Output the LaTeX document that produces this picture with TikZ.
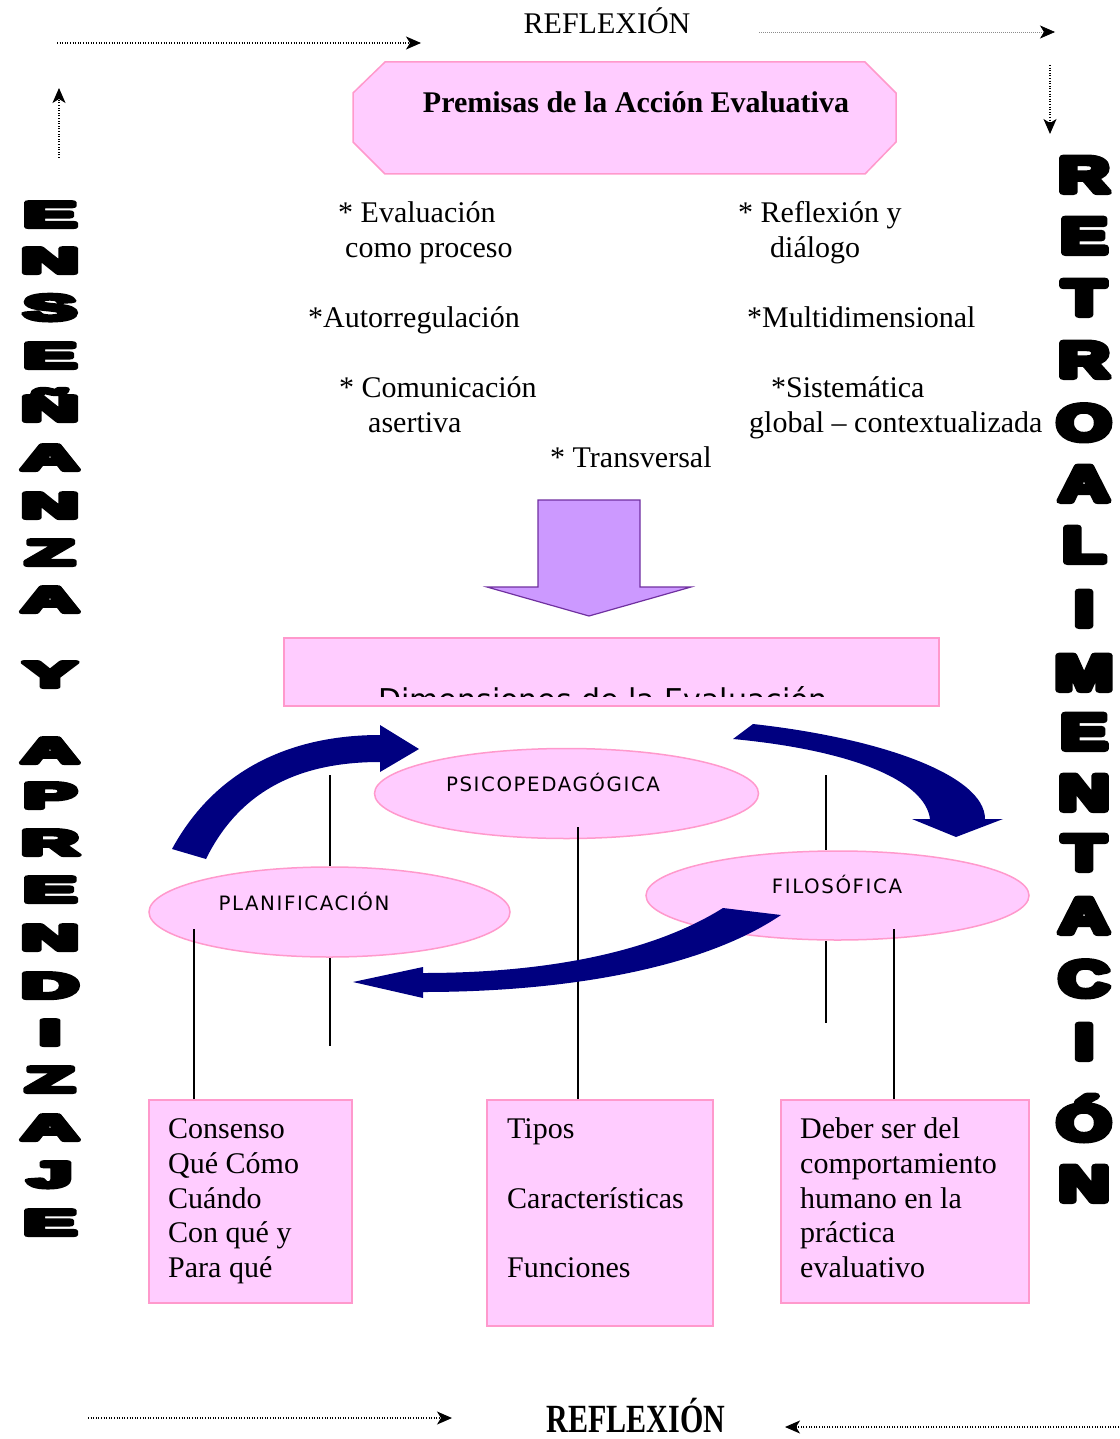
\documentclass[tikz,border=0pt]{standalone}
\usepackage{fontspec}
\usepackage{graphicx}
\setmainfont{Liberation Serif}
\newfontfamily\dvs{DejaVu Sans}
\newfontfamily\dvsl{DejaVu Sans}[LetterSpace=8]
\newfontfamily\blk{Liberation Sans}[BoldFeatures={FakeBold=12}]
\usetikzlibrary{arrows.meta,shapes.geometric}
\definecolor{pinkfill}{HTML}{FFCCFF}
\definecolor{pinkline}{HTML}{FF99CC}
\definecolor{navyc}{HTML}{000080}
\definecolor{lavfill}{HTML}{CC99FF}
\definecolor{purpline}{HTML}{7030A0}
\begin{document}
\begin{tikzpicture}[x=1pt,y=-1pt,
  txt/.style={anchor=base west, inner sep=0pt, font=\fontsize{30}{35}\selectfont},
  pinkshape/.style={fill=pinkfill, draw=pinkline, line width=1.5pt},
  pinkbox/.style={pinkshape, rectangle, inner sep=0pt},
  pinkell/.style={pinkshape, ellipse, inner sep=0pt},
  elltxt/.style={anchor=base, inner sep=0pt, font=\dvsl\fontsize{19.8}{20}\selectfont},
  lletter/.style={anchor=base, inner sep=0pt, line join=round, font=\blk\bfseries\fontsize{36}{36}\selectfont},
  rletter/.style={anchor=base, inner sep=0pt, line join=round, font=\blk\bfseries\fontsize{50}{50}\selectfont},
  dotarrow/.style={line width=1.1pt, dash pattern=on 1pt off 1.6pt, -{Stealth[length=15pt,width=13pt,inset=4pt]}},
  greyarrow/.style={line width=0.7pt, draw=black!45, dash pattern=on 1pt off 1pt, -{Stealth[length=15pt,width=13pt,inset=4pt,black]}},
  vline/.style={line width=1.4pt, black},
  navyarrow/.style={fill=navyc, draw=none}
]
\useasboundingbox (0,0) rectangle (1119,1439);

% ---------- top REFLEXION and dotted arrows ----------
\node[anchor=base, inner sep=0pt, font=\fontsize{30}{35}\selectfont] (refltop) at (607,34) {REFLEXIÓN};
\coordinate (ta1) at (57,43);
\coordinate (ta2) at (421,43);
\draw[dotarrow] (ta1) -- (ta2);
\coordinate (tb1) at (759,32);
\coordinate (tb2) at (1055,32);
\draw[greyarrow] (tb1) -- (tb2);
\coordinate (tc1) at (59,158);
\coordinate (tc2) at (59,88);
\draw[dotarrow] (tc1) -- (tc2);
\coordinate (td1) at (1050,65);
\coordinate (td2) at (1050,134);
\draw[dotarrow] (td1) -- (td2);

% ---------- premisas ----------
\path[pinkshape] (353,93) -- (385,62) -- (865,62) -- (896,93) -- (896,142) -- (865,174) -- (385,174) -- (353,142) -- cycle;
\node[anchor=base, inner sep=0pt, font=\bfseries\fontsize{30}{35}\selectfont] (prem) at (636,113) {Premisas de la Acción Evaluativa};

\node[txt] (p1a) at (338,223) {* Evaluación};
\node[txt] (p1b) at (345,258) {como proceso};
\node[txt] (p2) at (308,327) {*Autorregulación};
\node[txt] (p3a) at (339,397) {* Comunicación};
\node[txt] (p3b) at (368,432) {asertiva};
\node[txt] (p4) at (550,467) {* Transversal};
\node[txt] (p5a) at (738,223) {* Reflexión y};
\node[txt] (p5b) at (770,258) {diálogo};
\node[txt] (p6) at (747,327) {*Multidimensional};
\node[txt] (p7a) at (771,397) {*Sistemática};
\node[txt] (p7b) at (749,432) {global – contextualizada};

% ---------- big down arrow ----------
\path[fill=lavfill, draw=purpline, line width=1.2pt] (538,500) -- (640,500) -- (640,587) -- (691,587) -- (589,616) -- (487,587) -- (538,587) -- cycle;

% ---------- dimensiones ----------
\node[pinkbox, minimum width=655pt, minimum height=68pt] (dim) at (611.5,672) {};
\begin{scope}
  \clip (285,600) rectangle (938,696);
  \node[anchor=base, inner sep=0pt, font=\dvs\fontsize{30}{35}\selectfont] (dimtxt) at (603,710) {Dimensiones de la Evaluación};
\end{scope}

% ---------- ellipses ----------
\node[pinkell, minimum width=384pt, minimum height=90pt] (psi) at (566.5,793.5) {};
\node[pinkell, minimum width=361pt, minimum height=90pt] (pla) at (329.5,912) {};
\node[pinkell, minimum width=383pt, minimum height=89pt] (fil) at (837.5,895.5) {};
\node[elltxt] (psit) at (553,791) {PSICOPEDAGÓGICA};
\node[elltxt] (plat) at (304,910) {PLANIFICACIÓN};
\node[elltxt] (filt) at (837,893) {FILOSÓFICA};

% ---------- boxes ----------
\node[pinkbox, minimum width=203pt, minimum height=203pt] (b1) at (250.5,1201.5) {};
\node[pinkbox, minimum width=226pt, minimum height=226pt] (b2) at (600,1213) {};
\node[pinkbox, minimum width=248pt, minimum height=203pt] (b3) at (905,1201.5) {};

\node[txt] (b1a) at (168,1138) {Consenso};
\node[txt] (b1b) at (168,1173) {Qué Cómo};
\node[txt] (b1c) at (168,1208) {Cuándo};
\node[txt] (b1d) at (168,1242) {Con qué y};
\node[txt] (b1e) at (168,1277) {Para qué};
\node[txt] (b2a) at (507,1138) {Tipos};
\node[txt] (b2b) at (507,1208) {Características};
\node[txt] (b2c) at (507,1277) {Funciones};
\node[txt] (b3a) at (800,1138) {Deber ser del};
\node[txt] (b3b) at (800,1173) {comportamiento};
\node[txt] (b3c) at (800,1208) {humano en la};
\node[txt] (b3d) at (800,1242) {práctica};
\node[txt] (b3e) at (800,1277) {evaluativo};

% ---------- vertical lines ----------
\coordinate (v1a) at (330,775);
\draw[vline] (v1a) -- (v1a |- pla.north);
\coordinate (v1b) at (330,958);
\coordinate (v1c) at (330,1046);
\draw[vline] (v1b) -- (v1c);
\coordinate (v2) at (194,929);
\draw[vline] (v2) -- (v2 |- b1.north);
\coordinate (v3) at (578,827);
\draw[vline] (v3) -- (v3 |- b2.north);
\coordinate (v4a) at (826,775);
\draw[vline] (v4a) -- (v4a |- fil.north);
\coordinate (v4b) at (826,941);
\coordinate (v4c) at (826,1023);
\draw[vline] (v4b) -- (v4c);
\coordinate (v5) at (894,929);
\draw[vline] (v5) -- (v5 |- b3.north);

% ---------- navy curved arrows ----------
\path[navyarrow] (172,849) .. controls (215,770) and (290,735) .. (380,735) -- (380,725) -- (419,749) -- (380,772) -- (380,762) .. controls (300,762) and (240,790) .. (206,859) -- cycle;
\path[navyarrow] (753,724) .. controls (880,738) and (985,775) .. (985,819) -- (1003,819) -- (956,837) -- (912,819) -- (930,819) .. controls (925,780) and (850,750) .. (733,739) -- cycle;
\path[navyarrow] (723,908) .. controls (640,960) and (520,973) .. (423,973) -- (423,967) -- (353,982) -- (423,998) -- (423,992) .. controls (560,992) and (700,970) .. (781,915) -- cycle;

% ---------- vertical words ----------
\foreach \c/\y [count=\i] in {E/212, N/258, S/305, E/353, Ñ/406, A/455, N/503, Z/550, A/597, Y/672, A/748, P/793, R/840, E/887, N/935, D/983, I/1030, Z/1077, A/1125, J/1172, E/1220}
  \node[lletter] (L\i) at (50,\y+15) {\scalebox{2.2}[1]{\c}};
\foreach \c/\y [count=\i] in {R/171, E/232, T/294, R/356, O/419, A/480, L/541, I/605, M/669, E/728, N/789, T/849, A/912, C/975, I/1038, Ó/1119, N/1180}
  \node[rletter] (R\i) at (1084,\y+21) {\scalebox{1.4}[1]{\c}};

% ---------- bottom ----------
\node[anchor=base, inner sep=0pt, font=\bfseries\fontsize{40}{40}\selectfont] (reflbot) at (636,1432) {\scalebox{0.75}[1]{REFLEXIÓN}};
\coordinate (ba1) at (88,1418);
\coordinate (ba2) at (452,1418);
\draw[dotarrow] (ba1) -- (ba2);
\coordinate (bb1) at (1119,1427);
\coordinate (bb2) at (785,1427);
\draw[dotarrow] (bb1) -- (bb2);
\end{tikzpicture}
\end{document}
